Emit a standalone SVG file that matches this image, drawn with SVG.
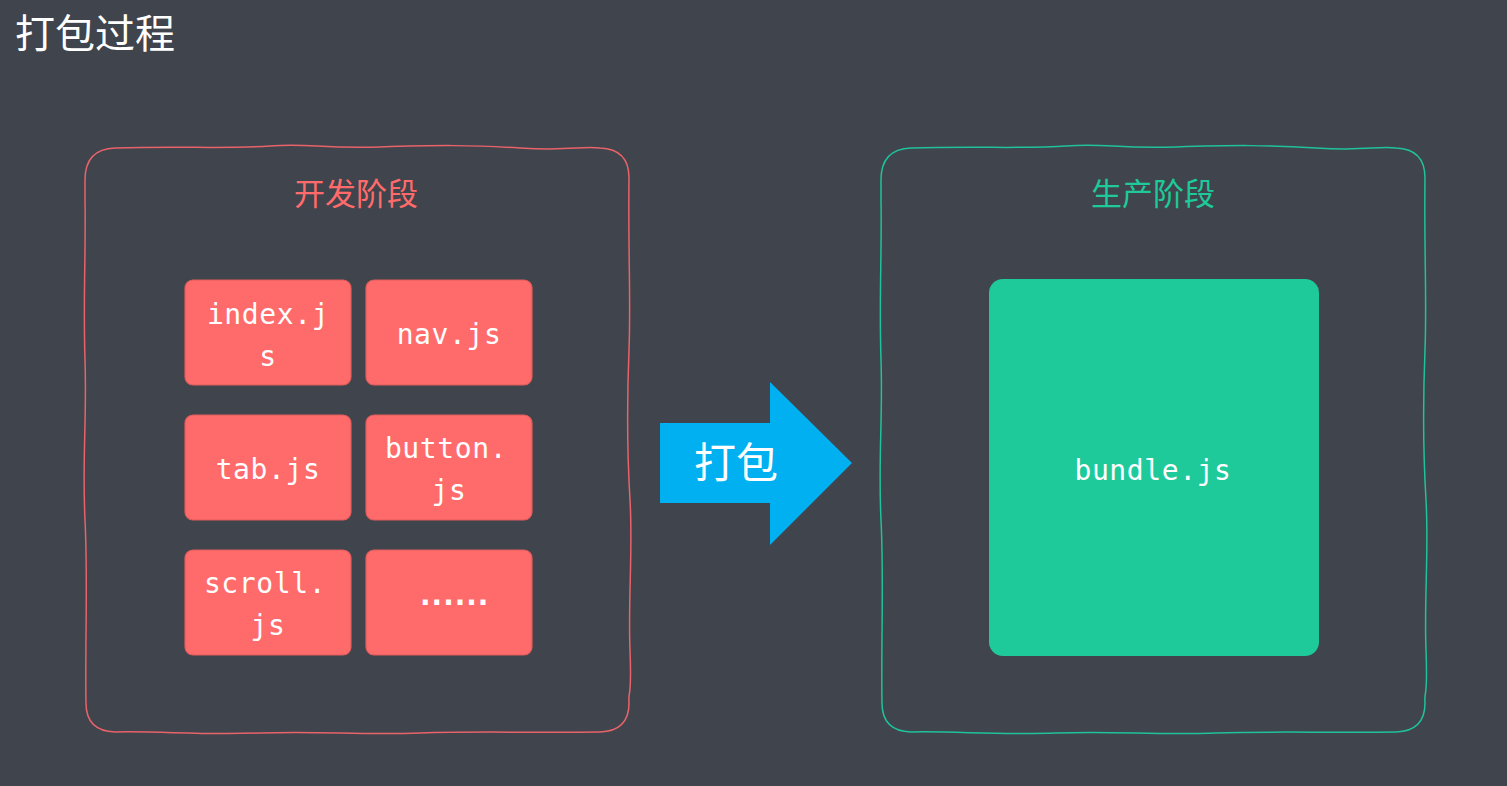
<svg xmlns="http://www.w3.org/2000/svg" width="1507" height="786" viewBox="0 0 1507 786">
<style>
.cjk{font-family:"Noto Sans CJK SC","Noto Sans",sans-serif;}
.mono{font-family:"DejaVu Sans Mono","Noto Sans CJK SC",monospace;font-size:28px;fill:#ffffff;text-anchor:middle;letter-spacing:0.6px;}
.file{fill:#ff6b6b;stroke:#e05c5c;stroke-width:1.2;}
.frame{fill:none;stroke-width:1.5;}
</style>
<defs>
<path id="wobble" d="M115,148 C180,146 230,149 270,146 S320,149 380,147 S470,145 520,148 S580,146 600,148 Q629,149 629,178 C628,250 631,300 629,350 S627,450 630,500 S628,600 630,650 S628,690 629,703 Q629,731 600,732 C530,733 480,731 420,733 S320,731 260,733 S160,731 115,732 Q86,731 86,703 C85,640 88,580 85,520 S87,420 85,360 S86,250 85,200 L85,180 Q85,149 115,148 Z"/>
</defs>
<rect x="0" y="0" width="1507" height="786" fill="#40444c"/>
<text class="cjk" x="15" y="48" font-size="40" fill="#ffffff">打包过程</text>

<g id="dev-stage">
<use href="#wobble" class="frame" stroke="#e8636a"/>
<text class="cjk" x="356" y="205" font-size="31" fill="#ff6b6b" text-anchor="middle">开发阶段</text>
</g>
<g id="file-index">
<rect class="file" x="185" y="280" width="166" height="105" rx="8"/>
<text class="mono" x="268" y="324">index.j</text>
<text class="mono" x="268" y="366">s</text>
</g>
<g id="file-nav">
<rect class="file" x="366" y="280" width="166" height="105" rx="8"/>
<text class="mono" x="449" y="344">nav.js</text>
</g>
<g id="file-tab">
<rect class="file" x="185" y="415" width="166" height="105" rx="8"/>
<text class="mono" x="268" y="479">tab.js</text>
</g>
<g id="file-button">
<rect class="file" x="366" y="415" width="166" height="105" rx="8"/>
<text class="mono" x="446" y="458">button.</text>
<text class="mono" x="449" y="500">js</text>
</g>
<g id="file-scroll">
<rect class="file" x="185" y="550" width="166" height="105" rx="8"/>
<text class="mono" x="265" y="593">scroll.</text>
<text class="mono" x="268" y="635">js</text>
</g>
<g id="file-more">
<rect class="file" x="366" y="550" width="166" height="105" rx="8"/>
<text x="451" y="605" font-family="DejaVu Sans Mono, monospace" font-size="30" font-weight="bold" fill="#ffffff" text-anchor="middle" letter-spacing="-6.5">......</text>
</g>

<g id="connectors">
<g id="pack-arrow">
<polygon points="660,423 770,423 770,382 852,463 770,545 770,503 660,503" fill="#00b0f0"/>
<text class="cjk" x="736" y="478" font-size="42" fill="#ffffff" text-anchor="middle">打包</text>
</g>
</g>

<g id="prod-stage">
<use href="#wobble" class="frame" stroke="#1fc29a" transform="translate(796,0)"/>
<text class="cjk" x="1153" y="205" font-size="31" fill="#1ec99a" text-anchor="middle">生产阶段</text>
</g>
<g id="bundle">
<rect x="989" y="279" width="330" height="377" rx="14" fill="#1ec99a"/>
<text class="mono" x="1153" y="480">bundle.js</text>
</g>
</svg>
